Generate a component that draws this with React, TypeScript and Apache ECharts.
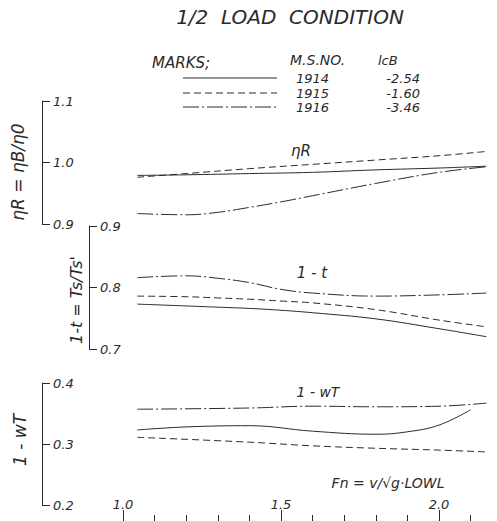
import React, { useEffect, useRef } from "react";
import * as echarts from "echarts";

// ---- data ----
const msNumbers = ["1914", "1915", "1916"];
const lcbValues = ["-2.54", "-1.60", "-3.46"];
const xTickLabels = ["1.0", "1.5", "2.0"];

// eta_R panel
const fnEta = [1.045, 1.2, 1.4, 1.6, 1.8, 2.0, 2.15];
const etaR1914 = [0.979, 0.98, 0.982, 0.984, 0.988, 0.991, 0.994];
const etaR1915 = [0.976, 0.982, 0.99, 0.997, 1.004, 1.011, 1.018];
const fnEta1916 = [1.045, 1.2, 1.3, 1.4, 1.5, 1.6, 1.8, 2.0, 2.15];
const etaR1916 = [0.917, 0.915, 0.919, 0.927, 0.936, 0.946, 0.966, 0.984, 0.993];

// 1 - t panel
const fnT = [1.045, 1.2, 1.3, 1.4, 1.5, 1.6, 1.8, 2.0, 2.15];
const t1914 = [0.773, 0.77, 0.768, 0.766, 0.763, 0.759, 0.749, 0.733, 0.72];
const t1915 = [0.786, 0.785, 0.783, 0.781, 0.778, 0.775, 0.764, 0.747, 0.736];
const t1916 = [0.816, 0.819, 0.815, 0.808, 0.797, 0.791, 0.786, 0.788, 0.791];

// 1 - wT panel
const fnW1914 = [1.045, 1.2, 1.4, 1.6, 1.8, 1.9, 2.0, 2.1];
const w1914 = [0.323, 0.328, 0.33, 0.321, 0.316, 0.32, 0.331, 0.356];
const fnW = [1.045, 1.4, 1.6, 1.8, 2.0, 2.15];
const w1915 = [0.311, 0.303, 0.297, 0.293, 0.29, 0.287];
const w1916 = [0.357, 0.359, 0.362, 0.361, 0.362, 0.367];

const INK = "#2a2a2a";
const FONT = "DejaVu Sans";
const dashTypes: any[] = ["solid", [7, 4], [16, 3, 2, 3]];

const pair = (xs: number[], ys: number[]) => xs.map((x, i) => [x, ys[i]]);

function line(name: string, xs: number[], ys: number[], k: number, gi: number) {
  return {
    name,
    type: "line",
    xAxisIndex: gi,
    yAxisIndex: gi,
    data: pair(xs, ys),
    smooth: 0.4,
    symbol: "none",
    lineStyle: { color: INK, width: 1, type: dashTypes[k] },
  };
}

export default function App() {
  const ref = useRef<HTMLDivElement>(null);
  useEffect(() => {
    if (!ref.current) return;
    const chart = echarts.init(ref.current, null, { renderer: "svg" });
    const gridCommon = { left: 123, width: 474, containLabel: false };
    const hiddenX = (gi: number) => ({
      type: "value",
      gridIndex: gi,
      min: 1.0,
      max: 2.5,
      show: false,
    });
    const yAx = (gi: number, min: number, max: number, offset: number) => ({
      type: "value",
      gridIndex: gi,
      min,
      max,
      interval: 0.1,
      position: "left",
      offset,
      splitLine: { show: false },
      axisLine: { show: true, lineStyle: { color: INK, width: 1 } },
      axisTick: { show: true, inside: true, length: 8, lineStyle: { color: INK } },
      axisLabel: {
        inside: true,
        margin: 11,
        color: INK,
        fontStyle: "italic",
        fontFamily: FONT,
        fontSize: 13,
        formatter: (v: number) => v.toFixed(1),
      },
    });
    const txt = (x: number, y: number, text: string, size: number, extra: any = {}) => ({
      type: "text",
      x,
      y,
      style: {
        text,
        fontSize: size,
        fontStyle: "italic",
        fontFamily: FONT,
        fill: INK,
        align: "center",
        verticalAlign: "middle",
        ...extra,
      },
    });
    const rot = (x: number, y: number, text: string, size: number) => ({
      type: "text",
      x,
      y,
      rotation: Math.PI / 2,
      style: {
        text,
        fontSize: size,
        fontStyle: "italic",
        fontFamily: FONT,
        fill: INK,
        align: "center",
        verticalAlign: "middle",
      },
    });
    const legendRows = [78, 93, 107];
    const graphics: any[] = [
      txt(290, 17, "1/2  LOAD  CONDITION", 20),
      txt(152, 63, "MARKS;", 15, { align: "left" }),
      txt(290, 60, "M.S.NO.", 14, { align: "left" }),
      txt(378, 60, "lcB", 13, { align: "left" }),
      txt(301, 151, "ηR", 15),
      txt(312, 273, "1 - t", 15),
      txt(318, 392, "1 - wT", 14),
      txt(388, 483, "Fn = v/√g·LOWL", 14),
      rot(18, 172, "ηR = ηB/η0", 17),
      rot(76, 300, "1-t = Ts/Ts'", 16),
      rot(20, 440, "1 - wT", 17),
    ];
    legendRows.forEach((y, k) => {
      graphics.push({
        type: "line",
        shape: { x1: 183, y1: y, x2: 277, y2: y },
        style: {
          stroke: INK,
          lineWidth: 1,
          lineDash: k === 0 ? null : dashTypes[k],
        },
      });
      graphics.push(txt(296, y, msNumbers[k], 13, { align: "left" }));
      graphics.push(txt(420, y, lcbValues[k], 13, { align: "right" }));
    });

    chart.setOption({
      animation: false,
      backgroundColor: "#ffffff",
      grid: [
        { ...gridCommon, top: 101, height: 123 },
        { ...gridCommon, top: 226, height: 123 },
        { ...gridCommon, top: 383, height: 122 },
      ],
      xAxis: [
        hiddenX(0),
        hiddenX(1),
        {
          type: "value",
          gridIndex: 2,
          min: 1.0,
          max: 2.5,
          interval: 0.5,
          position: "bottom",
          offset: 16,
          splitLine: { show: false },
          axisLine: { show: false },
          axisTick: { show: true, inside: true, length: 11, lineStyle: { color: INK } },
          minorTick: { show: true, splitNumber: 5, length: 6, lineStyle: { color: INK } },
          axisLabel: {
            inside: true,
            margin: 10,
            color: INK,
            fontStyle: "italic",
            fontFamily: FONT,
            fontSize: 13,
            formatter: (v: number) => {
              const s = v.toFixed(1);
              return xTickLabels.indexOf(s) >= 0 ? s : "";
            },
          },
        },
      ],
      yAxis: [yAx(0, 0.9, 1.1, 81), yAx(1, 0.7, 0.9, 34), yAx(2, 0.2, 0.4, 81)],
      series: [
        line("1914", fnEta, etaR1914, 0, 0),
        line("1915", fnEta, etaR1915, 1, 0),
        line("1916", fnEta1916, etaR1916, 2, 0),
        line("1914", fnT, t1914, 0, 1),
        line("1915", fnT, t1915, 1, 1),
        line("1916", fnT, t1916, 2, 1),
        line("1914", fnW1914, w1914, 0, 2),
        line("1915", fnW, w1915, 1, 2),
        line("1916", fnW, w1916, 2, 2),
      ],
      graphic: graphics,
    });
    return () => chart.dispose();
  }, []);
  return (
    <div
      style={{
        position: "absolute",
        left: 0,
        top: 0,
        width: 497,
        height: 521,
        overflow: "hidden",
        background: "#fff",
      }}
    >
      <div ref={ref} style={{ width: 600, height: 521 }} />
    </div>
  );
}
